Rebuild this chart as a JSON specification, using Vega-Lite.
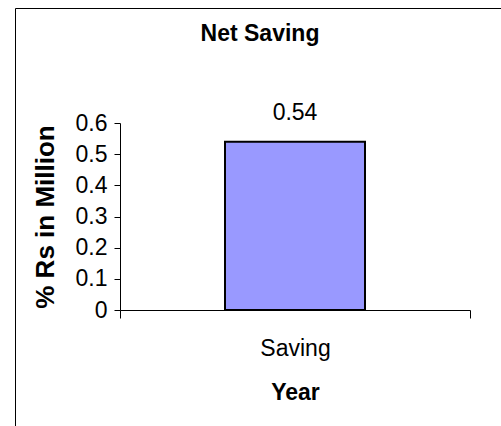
{
  "$schema": "https://vega.github.io/schema/vega-lite/v6.json",
  "autosize": {"type": "none"},
  "padding": {"left": 15, "top": 8, "right": 0, "bottom": 0},
  "width": 490,
  "height": 425,
  "background": "white",
  "title": {
    "text": "Net Saving",
    "anchor": "middle",
    "offset": -56,
    "baseline": "alphabetic",
    "fontSize": 23,
    "fontWeight": "bold",
    "font": "Liberation Sans",
    "color": "black"
  },
  "data": {"values": [{"Year": "Saving", "Amount": 0.54}]},
  "encoding": {
    "x": {
      "field": "Year",
      "type": "nominal",
      "scale": {"range": [105, 455], "paddingInner": 0, "paddingOuter": 0},
      "axis": {
        "orient": "bottom",
        "offset": -123,
        "tickBand": "extent",
        "tickSize": 8,
        "tickColor": "black",
        "domainColor": "black",
        "labelAngle": 0,
        "labelPadding": 19,
        "labelFont": "Liberation Sans",
        "labelFontSize": 23,
        "labelColor": "black",
        "title": "Year",
        "titleFont": "Liberation Sans",
        "titleFontSize": 23,
        "titleFontWeight": "bold",
        "titleColor": "black",
        "titlePadding": 21
      }
    },
    "y": {
      "field": "Amount",
      "type": "quantitative",
      "scale": {"domain": [0, 0.6], "range": [302, 115], "nice": false},
      "axis": {
        "orient": "left",
        "offset": -105,
        "values": [0, 0.1, 0.2, 0.3, 0.4, 0.5, 0.6],
        "format": "~g",
        "grid": false,
        "tickSize": 6,
        "tickColor": "black",
        "domainColor": "black",
        "labelPadding": 7,
        "labelFont": "Liberation Sans",
        "labelFontSize": 23,
        "labelColor": "black",
        "title": "% Rs in Million",
        "titleFont": "Liberation Sans",
        "titleFontSize": 26,
        "titleFontWeight": "bold",
        "titleColor": "black",
        "titlePadding": 17
      }
    }
  },
  "layer": [
    {
      "mark": {
        "type": "bar",
        "width": {"band": 0.4},
        "fill": "#9999FF",
        "stroke": "black",
        "strokeWidth": 2
      }
    },
    {
      "mark": {
        "type": "text",
        "baseline": "alphabetic",
        "dy": -22,
        "fontSize": 23,
        "font": "Liberation Sans",
        "color": "black"
      },
      "encoding": {"text": {"field": "Amount", "type": "quantitative"}}
    }
  ],
  "config": {"view": {"stroke": "black", "strokeWidth": 1}}
}
